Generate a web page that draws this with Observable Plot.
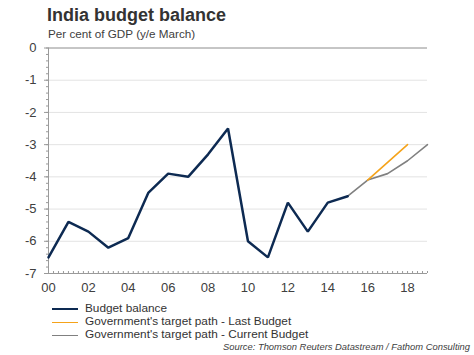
<!DOCTYPE html>
<html>
<head>
<meta charset="utf-8">
<script src="https://cdn.jsdelivr.net/npm/d3@7"></script>
<script src="https://cdn.jsdelivr.net/npm/@observablehq/plot@0.6"></script>
<style>
  html, body { margin: 0; padding: 0; background: #fff; }
  body { width: 474px; height: 355px; position: relative; overflow: hidden; font-family: "Liberation Sans", Arial, sans-serif; color: #333; }
  #title { position: absolute; left: 47px; top: 4px; font-size: 18px; font-weight: bold; line-height: 22px; color: #333; }
  #subtitle { position: absolute; left: 48px; top: 27px; font-size: 11.7px; line-height: 14px; color: #404040; }
  #chart { position: absolute; left: 0; top: 40px; }
  .leg { position: absolute; left: 52px; font-size: 11.8px; line-height: 14px; color: #333; }
  .leg .sw { position: absolute; left: 0; top: 7px; width: 26px; }
  .leg span { position: absolute; left: 33px; top: 0; white-space: nowrap; }
  #source { position: absolute; right: 4px; top: 341px; font-size: 9.4px; font-style: italic; color: #404040; white-space: nowrap; }
</style>
</head>
<body>
<div id="title">India budget balance</div>
<div id="subtitle">Per cent of GDP (y/e March)</div>
<div id="chart"></div>
<div class="leg" style="top:301px"><div class="sw" style="border-top:2.5px solid #0d2a52"></div><span>Budget balance</span></div>
<div class="leg" style="top:314px"><div class="sw" style="border-top:1.5px solid #f5a31a;top:7.5px"></div><span>Government's target path - Last Budget</span></div>
<div class="leg" style="top:327px"><div class="sw" style="border-top:1.5px solid #808080;top:7.5px"></div><span>Government's target path - Current Budget</span></div>
<div id="source">Source: Thomson Reuters Datastream / Fathom Consulting</div>
<script>
// Budget balance (actual)
const balanceYears = [2000, 2001, 2002, 2003, 2004, 2005, 2006, 2007, 2008, 2009, 2010, 2011, 2012, 2013, 2014, 2015];
const balanceValues = [-6.5, -5.4, -5.7, -6.2, -5.9, -4.5, -3.9, -4.0, -3.3, -2.5, -6.0, -6.5, -4.8, -5.7, -4.8, -4.6];
// Government's target path - Last Budget
const lastYears = [2016, 2017, 2018];
const lastValues = [-4.1, -3.55, -3.0];
// Government's target path - Current Budget
const currentYears = [2015, 2016, 2017, 2018, 2019];
const currentValues = [-4.6, -4.1, -3.9, -3.5, -3.0];
// Axis ticks
const xTicks = [2000, 2002, 2004, 2006, 2008, 2010, 2012, 2014, 2016, 2018];
const yTicks = [0, -1, -2, -3, -4, -5, -6, -7];

const balance = balanceYears.map((x, i) => ({x, y: balanceValues[i]}));
const last = lastYears.map((x, i) => ({x, y: lastValues[i]}));
const current = currentYears.map((x, i) => ({x, y: currentValues[i]}));
const xMinor = d3.range(2000, 2019.001, 0.25);
const yMinor = d3.range(-7, 0.001, 0.2).map(v => Math.round(v * 10) / 10);

const plot = Plot.plot({
  width: 474,
  height: 255,
  marginLeft: 48,
  marginRight: 47,
  marginTop: 7.5,
  marginBottom: 22,
  style: {fontSize: "13px", fontFamily: "'Liberation Sans', Arial, sans-serif", color: "#404040", background: "white"},
  x: {domain: [2000, 2019], label: null},
  y: {domain: [-7, 0], label: null},
  marks: [
    Plot.gridY(yTicks, {stroke: "#e3e3e3", strokeOpacity: 1}),
    Plot.ruleY([0], {stroke: "#9a9a9a"}),
    Plot.axisY(yMinor, {anchor: "left", tickSize: 2, tickFormat: () => "", stroke: "#9a9a9a", label: null}),
    Plot.axisY(yTicks, {anchor: "left", tickSize: 4, tickPadding: 8, tickFormat: d => String(d), stroke: "#9a9a9a", label: null}),
    Plot.axisX(xMinor, {anchor: "bottom", tickSize: -2, tickFormat: () => "", stroke: "#9a9a9a", label: null}),
    Plot.axisX(xTicks, {anchor: "bottom", tickSize: 0, tickPadding: 9, tickFormat: d => String(d % 100).padStart(2, "0"), label: null}),
    Plot.ruleX([2000], {stroke: "#9a9a9a"}),
    Plot.ruleY([-7], {stroke: "#9a9a9a"}),
    Plot.line(current, {x: "x", y: "y", stroke: "#808080", strokeWidth: 1.6}),
    Plot.line(last, {x: "x", y: "y", stroke: "#f5a31a", strokeWidth: 1.6}),
    Plot.line(balance, {x: "x", y: "y", stroke: "#0d2a52", strokeWidth: 2.5, strokeLinejoin: "miter"})
  ]
});
document.getElementById("chart").appendChild(plot);
</script>
</body>
</html>
